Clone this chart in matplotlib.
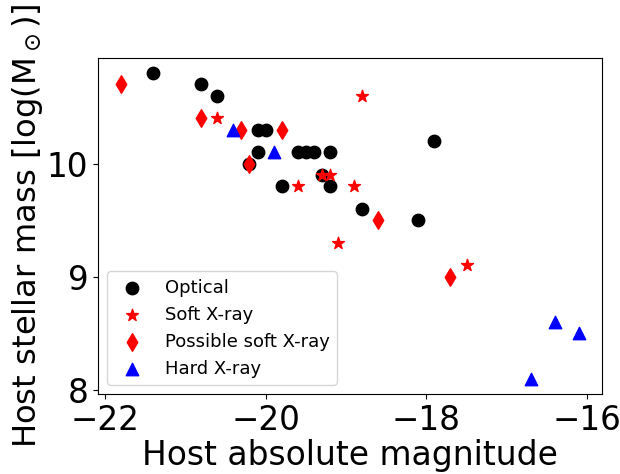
import numpy as np
from matplotlib import pyplot as plt

# optical hosts
opt_mag = [-21.4, -20.8, -20.6, -20.1, -20.0, -20.1, -19.6, -19.5, -19.4, -19.2,
           -20.2, -19.3, -19.8, -19.2, -17.9, -18.8, -18.1]
opt_mass = [10.8, 10.7, 10.6, 10.3, 10.3, 10.1, 10.1, 10.1, 10.1, 10.1,
            10.0, 9.9, 9.8, 9.8, 10.2, 9.6, 9.5]

# soft X-ray
soft_mag = [-20.6, -19.3, -19.2, -19.6, -18.9, -18.8, -19.1, -17.5]
soft_mass = [10.4, 9.9, 9.9, 9.8, 9.8, 10.6, 9.3, 9.1]

# possible soft X-ray
psoft_mag = [-21.8, -20.8, -20.3, -19.8, -20.2, -18.6, -17.7]
psoft_mass = [10.7, 10.4, 10.3, 10.3, 10.0, 9.5, 9.0]

# hard X-ray
hard_mag = [-20.4, -19.9, -16.4, -16.1, -16.7]
hard_mass = [10.3, 10.1, 8.6, 8.5, 8.1]

fig, ax = plt.subplots(figsize=(6.2, 4.74), dpi=100)

ax.scatter(opt_mag, opt_mass, c='k', marker='o', s=80, label='Optical')
ax.scatter(soft_mag, soft_mass, c='r', marker='*', s=80, label='Soft X-ray')
ax.scatter(psoft_mag, psoft_mass, c='r', marker='d', s=80, label='Possible soft X-ray')
ax.scatter(hard_mag, hard_mass, c='b', marker='^', s=80, label='Hard X-ray')

ax.set_xticks([-22, -20, -18, -16])
ax.set_yticks([8, 9, 10])
ax.tick_params(labelsize=23.5)
ax.set_xlabel('Host absolute magnitude', fontsize=23.7)
ax.set_ylabel(r'Host stellar mass [log(M$_\odot$)]', fontsize=23.2)
ax.xaxis.set_label_coords(0.5, -0.135)
ax.yaxis.set_label_coords(-0.106, 0.5)
ax.legend(loc='lower left', fontsize=13)

fig.subplots_adjust(left=0.158, right=0.971, bottom=0.169, top=0.878)
fig.savefig('out.png')
